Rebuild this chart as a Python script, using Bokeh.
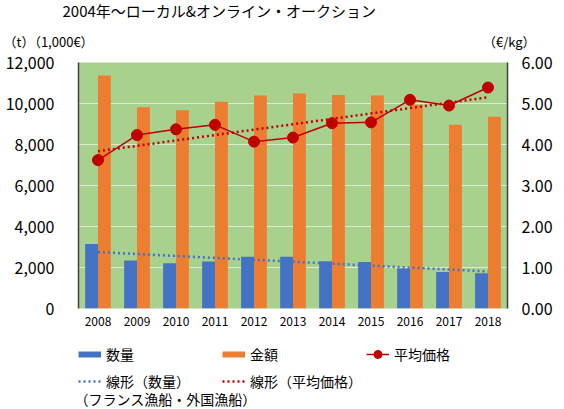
import numpy as np
from bokeh.plotting import figure
from bokeh.layouts import column
from bokeh.models import (Range1d, FactorRange, LinearAxis, NumeralTickFormatter, Legend,
                          LegendItem, ColumnDataSource, FixedTicker, Label, Title)
from bokeh.transform import dodge
from bokeh.embed import file_html
from bokeh.resources import INLINE

years = ["2008", "2009", "2010", "2011", "2012", "2013", "2014", "2015", "2016", "2017", "2018"]
quantity = [3150, 2340, 2210, 2290, 2530, 2530, 2300, 2270, 1950, 1780, 1720]
amount = [11370, 9820, 9670, 10080, 10390, 10490, 10420, 10390, 9940, 8960, 9350]
avg_price = [3.62, 4.23, 4.37, 4.48, 4.07, 4.17, 4.52, 4.54, 5.09, 4.95, 5.39]

title_text = "2004年～ローカル&オンライン・オークション"
left_unit = "（t）（1,000€）"
right_unit = "（€/kg）"
note_text = "（フランス漁船・外国漁船）"
legend_labels = ["数量", "金額", "平均価格", "線形（数量）", "線形（平均価格）"]

FONT = "Noto Sans CJK JP"
BLUE = "#4472C4"
ORANGE = "#ED7D31"
RED = "#C00000"

# linear trend lines (least squares, as in the spreadsheet trendline)
xi = np.arange(len(years))
qc = np.polyfit(xi, quantity, 1)
pc = np.polyfit(xi, avg_price, 1)
q_trend = list(np.polyval(qc, xi))
p_trend = list(np.polyval(pc, xi))

src = ColumnDataSource(dict(year=years, q=quantity, a=amount, p=avg_price, qt=q_trend, pt=p_trend))

# ---------- main chart ----------
p = figure(frame_width=429, frame_height=246, x_range=FactorRange(*years), y_range=Range1d(0, 12000),
           output_backend="svg", toolbar_location=None, title=title_text,
           min_border_left=78, min_border_right=57, min_border_top=61, min_border_bottom=26)
p.title.text_font = FONT
p.title.text_font_size = "15px"
p.title.text_font_style = "normal"
p.title.text_color = "#000000"
p.title.align = "left"
p.title.offset = -16
unit_standoff = 18
try:
    p.title.standoff = -6
    unit_standoff = 24
except Exception:
    p.title.standoff = 0

p.background_fill_color = "#A9D18E"
p.border_fill_color = "white"
p.outline_line_color = None
p.extra_y_ranges = {"price": Range1d(0, 6)}

p.vbar(x=dodge("year", -0.165, range=p.x_range), top="q", width=0.33, source=src,
       fill_color=BLUE, line_color=None)
p.vbar(x=dodge("year", 0.165, range=p.x_range), top="a", width=0.33, source=src,
       fill_color=ORANGE, line_color=None)
p.line(x="year", y="qt", source=src, line_color=BLUE, line_width=2.5, line_dash="2 3")
p.line(x="year", y="pt", source=src, line_color=RED, line_width=2.5, line_dash="2 3",
       y_range_name="price")
p.line(x="year", y="p", source=src, line_color=RED, line_width=1.5, y_range_name="price")
p.scatter(x="year", y="p", source=src, size=11, fill_color=RED, line_color=RED,
          y_range_name="price")

p.yaxis.ticker = FixedTicker(ticks=list(range(0, 12001, 2000)))
p.yaxis.formatter = NumeralTickFormatter(format="0,0")
ry = LinearAxis(y_range_name="price", ticker=FixedTicker(ticks=[0, 1, 2, 3, 4, 5, 6]),
                formatter=NumeralTickFormatter(format="0.00"))
p.add_layout(ry, "right")
for a, so in [(p.yaxis[0], 24), (ry, 14)]:
    a.major_label_text_font = FONT
    a.major_label_text_font_size = "16px"
    a.major_label_text_color = "#000000"
    a.major_tick_line_color = None
    a.minor_tick_line_color = None
    a.major_tick_out = 0
    a.major_tick_in = 0
    a.minor_tick_out = 0
    a.minor_tick_in = 0
    a.axis_label_standoff = 0
    a.major_label_standoff = so
    a.axis_line_color = "#404040"
    a.axis_line_width = 1.5

xa = p.xaxis[0]
xa.major_label_text_font = FONT
xa.major_label_text_font_size = "12px"
xa.major_label_text_color = "#000000"
xa.major_tick_line_color = None
xa.major_tick_out = 0
xa.major_tick_in = 0
xa.axis_label_standoff = 0
xa.axis_line_color = None
xa.major_label_standoff = 8

p.xgrid.grid_line_color = None
p.ygrid.grid_line_color = "#DCEBD2"
p.ygrid.grid_line_width = 1

# unit labels row above the frame
unit_row = left_unit + "\u3000" * 30 + "\u00a0" * 2 + right_unit
ut = Title(text=unit_row, align="left", offset=-75, standoff=unit_standoff, text_font=FONT,
           text_font_size="13px", text_font_style="normal", text_color="#000000")
p.add_layout(ut, "above")

# ---------- footer with legend ----------
footer = figure(width=564, height=75, x_range=Range1d(0, 1), y_range=Range1d(0, 1),
                x_axis_type=None, y_axis_type=None, output_backend="svg", toolbar_location=None,
                min_border_left=78, min_border_right=57, min_border_top=0, min_border_bottom=0)
footer.outline_line_color = None
footer.background_fill_color = "white"
footer.border_fill_color = "white"

nan1 = dict(x=[0.5], y=[float("nan")])
gq = footer.line(x="x", y="y", source=ColumnDataSource(nan1), line_color=BLUE, line_width=6)
ga = footer.line(x="x", y="y", source=ColumnDataSource(nan1), line_color=ORANGE, line_width=6)
gpl = footer.line(x="x", y="y", source=ColumnDataSource(nan1), line_color=RED, line_width=1.5)
gps = footer.scatter(x="x", y="y", source=ColumnDataSource(nan1), size=10, fill_color=RED,
                     line_color=RED)
gqt = footer.line(x="x", y="y", source=ColumnDataSource(nan1), line_color=BLUE, line_width=2.5,
                  line_dash="2 3")
gpt = footer.line(x="x", y="y", source=ColumnDataSource(nan1), line_color=RED, line_width=2.5,
                  line_dash="2 3")


def mk_legend(items, x, y):
    lg = Legend(items=items, orientation="horizontal", location=(x, y),
                label_text_font=FONT, label_text_font_size="14px", label_text_color="#000000",
                glyph_width=23, glyph_height=20, label_height=20, label_width=111,
                label_standoff=5, spacing=5, padding=0, margin=0,
                border_line_color=None, background_fill_alpha=0)
    footer.add_layout(lg, "center")


mk_legend([LegendItem(label=legend_labels[0], renderers=[gq]),
           LegendItem(label=legend_labels[1], renderers=[ga]),
           LegendItem(label=legend_labels[2], renderers=[gpl, gps])], 0, 45)
mk_legend([LegendItem(label=legend_labels[3], renderers=[gqt]),
           LegendItem(label=legend_labels[4], renderers=[gpt])], 0, 18)
footer.add_layout(Label(x=-4, y=11, x_units="screen", y_units="screen", text=note_text,
                        text_font=FONT, text_font_size="14px", text_color="#000000",
                        text_baseline="middle", text_align="left"))

layout = column(p, footer, spacing=0)
open("out.html", "w").write(file_html(layout, INLINE))
